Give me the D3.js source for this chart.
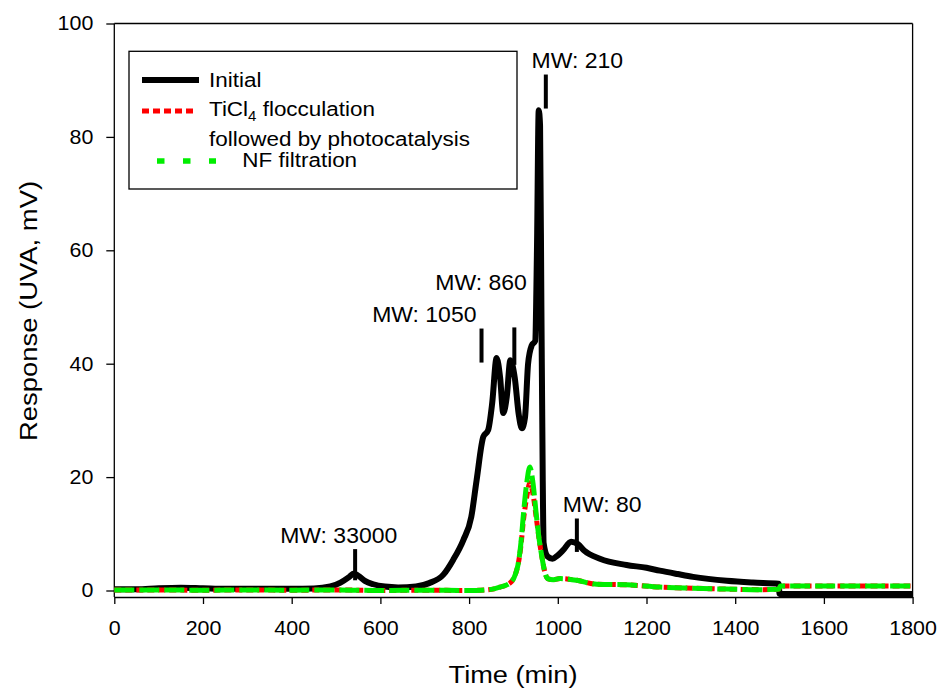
<!DOCTYPE html>
<html>
<head>
<meta charset="utf-8">
<script src="https://cdn.jsdelivr.net/npm/d3@7"></script>
<style>
  body { margin: 0; background: #fff; }
  svg text { font-family: "Liberation Sans", Arial, sans-serif; fill: #000; }
</style>
</head>
<body>
<svg id="chart"></svg>
<script>
// time (min), response (mV)
var initial = [
  [0,0.2],[50,0.2],[100,0.4],[150,0.5],[200,0.4],[250,0.3],[300,0.3],[350,0.3],[400,0.3],
  [450,0.35],[487,0.7],[510,1.4],[530,2.4],[540,3.0],[550,2.6],[565,1.7],[584,1.1],[610,0.7],
  [640,0.55],[680,0.7],[710,1.3],[742,2.8],[764,5.4],[787,8.9],[805,13],[817,19.5],[832,27.1],
  [843,28.3],[852,33],[862,41],[870,37.5],[877,31.3],[885,34.2],[893,40.6],[903,37.5],[912,31],
  [919,28.6],[926,30.5],[933,40],[941,43.2],[949,44],[953,60],[957,84.7],[960,82],[963,50],
  [966,20],[968,8.4],[977,6],[988,5.6],[1000,6.2],[1012,7.1],[1030,8.6],[1045,8.2],[1060,7.0],
  [1095,5.6],[1155,4.5],[1200,4.0],[1230,3.5],[1270,2.9],[1305,2.4],[1381,1.7],[1440,1.4],
  [1498,1.2],[1500,-0.6],[1800,-0.6]
];
var ticl4 = [
  [0,0.1],[100,0.1],[200,0.05],[300,0.1],[400,0.05],[500,0.1],[600,0.0],[700,0.05],[800,0.0],
  [850,0.2],[870,0.6],[892,1.3],[905,3],[911,4.8],[917,8],[922,12],[930,16.5],[937,19],
  [944,17],[952,12.5],[958,9],[964,6],[970,3.5],[977,2.1],[990,1.9],[1005,2.1],[1025,2.0],
  [1043,1.8],[1088,1.1],[1155,1.0],[1230,0.6],[1305,0.4],[1380,0.25],[1456,0.15],[1498,0.2],
  [1502,0.8],[1800,0.8]
];
var nf = [
  [0,0.1],[100,0.1],[200,0.05],[300,0.1],[400,0.05],[500,0.1],[600,0.0],[700,0.05],[800,0.0],
  [850,0.2],[870,0.6],[892,1.3],[905,3],[911,4.8],[917,8.5],[922,13],[930,19],[937,21.8],
  [944,19],[952,13],[958,9],[964,6],[970,3.5],[977,2.1],[990,1.9],[1005,2.1],[1025,2.0],
  [1043,1.8],[1088,1.1],[1155,1.0],[1230,0.6],[1305,0.4],[1380,0.25],[1456,0.15],[1498,0.2],
  [1502,0.8],[1800,0.8]
];
var xTicks = [0,200,400,600,800,1000,1200,1400,1600,1800];
var yTicks = [0,20,40,60,80,100];
// MW markers: label, marker time, marker top/bottom, label anchor (time, response)
var markers = [
  {label:"MW: 33000", t:543, top:7.3, bottom:1.8, lt:506, lv:8.3},
  {label:"MW: 1050", t:828, top:46.2, bottom:40.2, lt:699, lv:47.4},
  {label:"MW: 860", t:902, top:46.4, bottom:39.8, lt:827, lv:53},
  {label:"MW: 210", t:973, top:91, bottom:85, lt:1044, lv:92.1},
  {label:"MW: 80", t:1043, top:12.7, bottom:6.8, lt:1100, lv:13.9}
];

drawChart("svg#chart");

// place a text at (px,py) with a slight horizontal stretch
function place(sel, px, py, k){
  sel.attr("transform","translate("+px+","+py+") scale("+k+",1)");
  return sel;
}

function drawChart(svgName){
  var width = 941, height = 690;
  var left = 114.3, right = 912.6, plotTop = 23.5, zeroY = 590.5, axisY = 597;
  var k = 1.07;

  var svg = d3.select(svgName).attr("width", width).attr("height", height);

  var x = d3.scaleLinear().domain([0,1800]).range([left,right]);
  var y = d3.scaleLinear().domain([0,100]).range([zeroY,plotTop]);

  // frame
  svg.append("line").attr("x1",left).attr("x2",right).attr("y1",plotTop).attr("y2",plotTop)
     .attr("stroke","#000").attr("stroke-width",1.3);
  svg.append("line").attr("x1",right).attr("x2",right).attr("y1",plotTop).attr("y2",axisY)
     .attr("stroke","#000").attr("stroke-width",1.3);

  // axes
  var xAxis = svg.append("g").attr("transform","translate(0,"+axisY+")")
     .call(d3.axisBottom(x).tickValues(xTicks).tickFormat(d3.format("d"))
       .tickSize(7).tickSizeOuter(0));
  xAxis.selectAll(".tick text").attr("y",0).attr("dy",0)
     .attr("transform","translate(0,38) scale("+k+",1)");
  var yAxis = svg.append("g").attr("transform","translate("+left+",0)")
     .call(d3.axisLeft(y).tickValues(yTicks).tickFormat(d3.format("d"))
       .tickSize(8).tickSizeOuter(0));
  yAxis.selectAll(".tick text").attr("x",0)
     .attr("transform","translate(-21,0) scale("+k+",1)");
  yAxis.select(".domain").remove();
  svg.append("line").attr("x1",left).attr("x2",left).attr("y1",plotTop).attr("y2",axisY)
     .attr("stroke","#000").attr("stroke-width",1.3);
  [xAxis,yAxis].forEach(function(a){
    a.attr("font-size",20).attr("font-family","Liberation Sans, Arial, sans-serif");
    a.selectAll("path,line").attr("stroke","#000").attr("stroke-width",1.3);
  });

  place(svg.append("text").text("Time (min)"), 513, 683.3, 1.11)
     .attr("text-anchor","middle").attr("font-size",24.5);
  svg.append("text").text("Response (UVA, mV)")
     .attr("transform","translate(37,311) rotate(-90) scale(1.12,1)")
     .attr("text-anchor","middle").attr("font-size",24.5);

  // curves
  var line = d3.line().x(function(d){ return x(d[0]); }).y(function(d){ return y(d[1]); })
     .curve(d3.curveMonotoneX);

  svg.append("path").datum(initial).attr("d",line)
     .attr("fill","none").attr("stroke","#000").attr("stroke-width",6).attr("stroke-linejoin","round");
  svg.append("path").datum(ticl4).attr("d",line)
     .attr("fill","none").attr("stroke","#ff0000").attr("stroke-width",5).attr("stroke-dasharray","7,4");
  svg.append("path").datum(nf).attr("d",line)
     .attr("fill","none").attr("stroke","#00ee00").attr("stroke-width",5).attr("stroke-dasharray","20,5");

  // MW markers
  svg.selectAll("line.marker").data(markers).enter().append("line")
     .attr("class","marker")
     .attr("x1",function(d){ return x(d.t); }).attr("x2",function(d){ return x(d.t); })
     .attr("y1",function(d){ return y(d.top); }).attr("y2",function(d){ return y(d.bottom); })
     .attr("stroke","#000").attr("stroke-width",4);
  svg.selectAll("text.marker").data(markers).enter().append("text")
     .attr("class","marker")
     .text(function(d){ return d.label; })
     .attr("transform",function(d){ return "translate("+x(d.lt)+","+y(d.lv)+") scale("+k+",1)"; })
     .attr("text-anchor","middle").attr("font-size",21.5);

  // legend
  var lg = svg.append("g");
  lg.append("rect").attr("x",129).attr("y",51.3).attr("width",388).attr("height",137.7)
    .attr("fill","#fff").attr("stroke","#000").attr("stroke-width",1.3);
  lg.append("line").attr("x1",142).attr("x2",199).attr("y1",80).attr("y2",80)
    .attr("stroke","#000").attr("stroke-width",6);
  lg.append("line").attr("x1",142).attr("x2",197).attr("y1",111).attr("y2",111)
    .attr("stroke","#ff0000").attr("stroke-width",5).attr("stroke-dasharray","7,4");
  lg.append("line").attr("x1",157).attr("x2",216).attr("y1",161).attr("y2",161)
    .attr("stroke","#00ee00").attr("stroke-width",5.5).attr("stroke-dasharray","7.5,18.5");
  place(lg.append("text").text("Initial"), 209, 87.3, k).attr("font-size",21);
  var t2 = place(lg.append("text"), 209, 115.7, k).attr("font-size",21);
  t2.append("tspan").text("TiCl");
  t2.append("tspan").text("4").attr("font-size",14).attr("dy",5);
  t2.append("tspan").text(" flocculation").attr("dy",-5);
  place(lg.append("text").text("followed by photocatalysis"), 209, 145.7, k).attr("font-size",21);
  place(lg.append("text").text("NF filtration"), 242.3, 167.3, k).attr("font-size",21);
}
</script>
</body>
</html>
